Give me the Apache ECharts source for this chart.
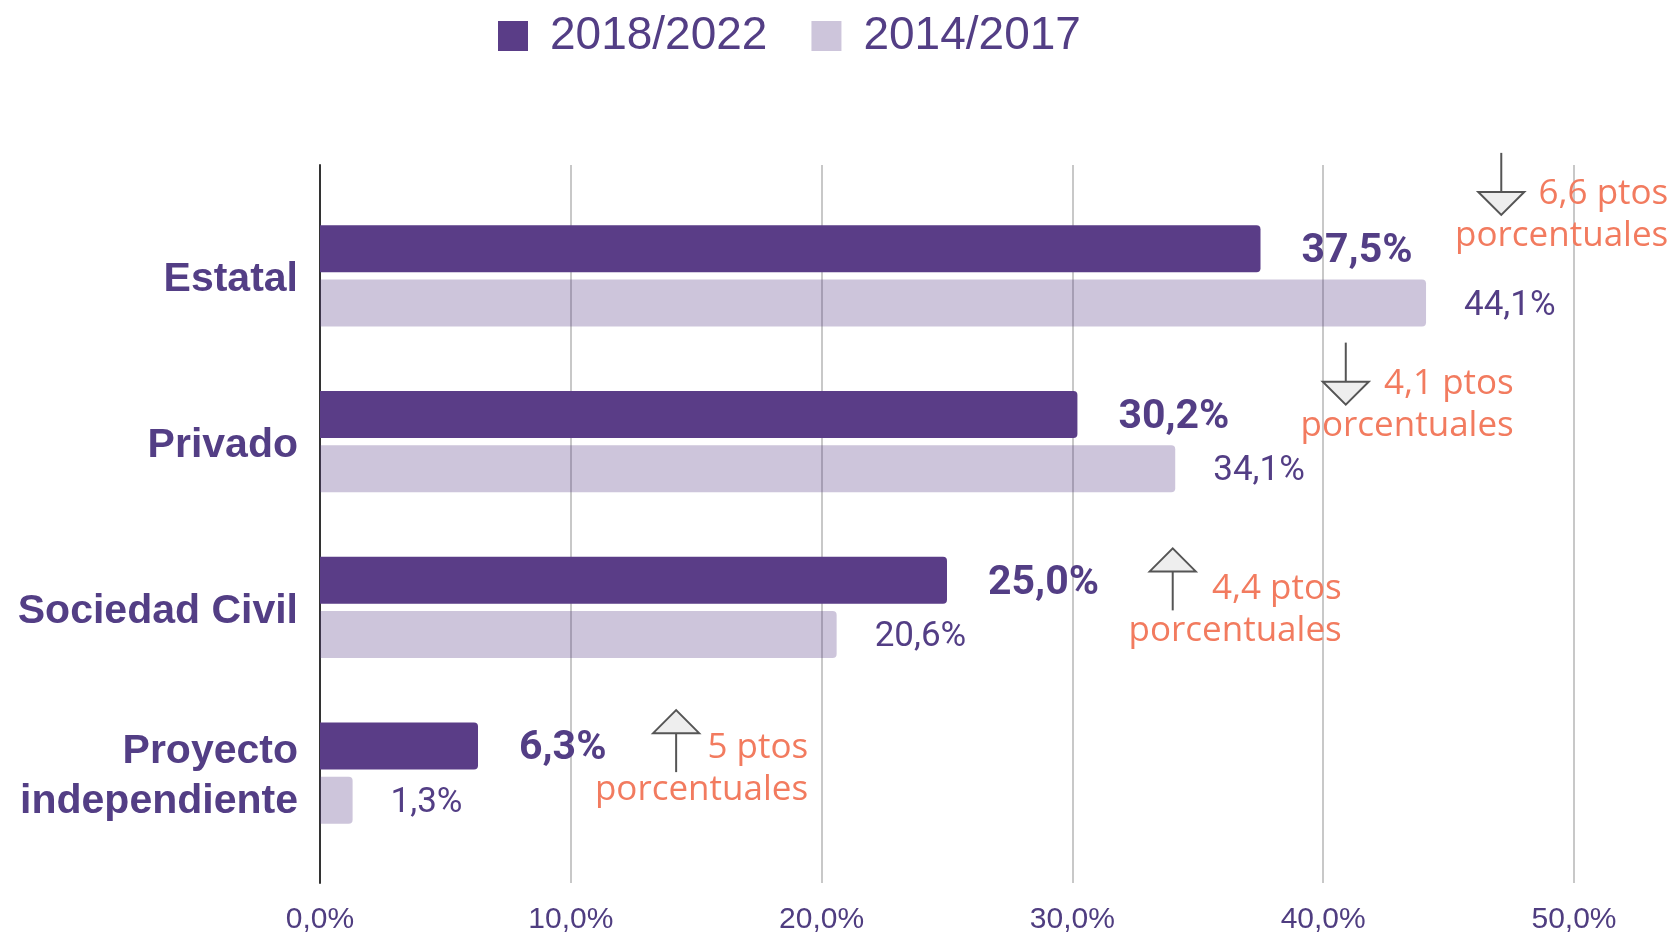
<!DOCTYPE html>
<html>
<head>
<meta charset="utf-8">
<script src="https://cdn.jsdelivr.net/npm/echarts@6/dist/echarts.min.js"></script>
<style>
  html, body { margin: 0; padding: 0; background: #fff; }
  #chart { width: 1674px; height: 935px; }
</style>
</head>
<body>
<div id="chart"></div>
<script>
// data
const categories = ["Estatal", "Privado", "Sociedad Civil", "Proyecto\nindependiente"];
const seriesNames = ["2018/2022", "2014/2017"];
const values2018 = [37.5, 30.2, 25.0, 6.3];
const values2014 = [44.1, 34.1, 20.6, 1.3];
const tickValues = [0, 10, 20, 30, 40, 50];
const diffLabels = ["6,6 ptos", "4,1 ptos", "4,4 ptos", "5 ptos"];
const diffDirection = ["down", "down", "up", "up"];

// annotation layout (arrow x in axis units, pixel offsets from category centre)
const annLayout = [
  { ax: 47.1, base: -84, textDx: 167, textDy: -82 },
  { ax: 40.9, base: -60, textDx: 168, textDy: -58 },
  { ax: 34.0, base: -36, textDx: 169, textDy: -18 },
  { ax: 14.2, base: -40, textDx: 132, textDy: -25 },
];

const DARK = "#5a3d87";
const LIGHT = "rgba(88,62,135,0.3)";
const TEXT = "#533e85";
const ORANGE = "#f27b5f";

const fmt = (v) => v.toFixed(1).replace(".", ",") + "%";

const chart = echarts.init(document.getElementById("chart"));

const option = {
  animation: false,
  legend: {
    data: seriesNames,
    left: 493,
    top: 8,
    icon: "rect",
    itemWidth: 30,
    itemHeight: 30,
    itemGap: 44,
    textStyle: {
      fontFamily: "Liberation Sans, Arial, sans-serif",
      fontSize: 46,
      color: TEXT,
      padding: [0, 0, 0, 17],
    },
  },
  grid: [
    { left: 320, right: 100, top: 165, bottom: 49 },
    { left: 320, right: 100, top: 193, bottom: 79 },
  ],
  xAxis: [
    {
      gridIndex: 0,
      type: "value",
      min: tickValues[0],
      max: tickValues[tickValues.length - 1],
      interval: 10,
      axisLine: { show: false },
      axisTick: { show: false },
      splitLine: { show: true, lineStyle: { color: "#c8c8c8", width: 2 } },
      axisLabel: {
        margin: 22,
        fontFamily: "Liberation Sans, Arial, sans-serif",
        fontSize: 30,
        color: "#4f3d80",
        formatter: (v) => fmt(v),
      },
    },
    {
      gridIndex: 1,
      type: "value",
      min: tickValues[0],
      max: tickValues[tickValues.length - 1],
      show: false,
    },
  ],
  yAxis: [
    {
      gridIndex: 0,
      type: "value",
      axisLine: { show: true, lineStyle: { color: "#333", width: 2 } },
      axisTick: { show: false },
      axisLabel: { show: false },
      splitLine: { show: false },
    },
    {
      gridIndex: 1,
      type: "category",
      inverse: true,
      data: categories,
      axisLine: { show: false },
      axisTick: { show: false },
      axisLabel: {
        margin: 22,
        align: "right",
        formatter: (v) => v.split("\n").map((s) => "{c|" + s + "}").join("\n"),
        rich: {
          c: {
            fontFamily: "Liberation Sans, Arial, sans-serif",
            fontWeight: "bold",
            fontSize: 41,
            lineHeight: 50,
            padding: [8, 0, 0, 0],
            color: TEXT,
          },
        },
      },
    },
  ],
  series: [
    {
      name: seriesNames[0],
      type: "bar",
      xAxisIndex: 1,
      yAxisIndex: 1,
      data: values2018,
      barWidth: 47,
      barGap: "15%",
      itemStyle: { color: DARK, borderRadius: [0, 4, 4, 0] },
      label: {
        show: true,
        position: "right",
        distance: 41,
        offset: [0, 3],
        fontFamily: "Roboto, sans-serif",
        fontWeight: "bold",
        fontSize: 41,
        color: TEXT,
        formatter: (p) => fmt(p.value),
      },
    },
    {
      name: seriesNames[1],
      type: "bar",
      xAxisIndex: 1,
      yAxisIndex: 1,
      data: values2014,
      barWidth: 47,
      barGap: "15%",
      itemStyle: { color: LIGHT, borderRadius: [0, 4, 4, 0] },
      label: {
        show: true,
        position: "right",
        distance: 38,
        offset: [0, 3],
        fontFamily: "Roboto, sans-serif",
        fontSize: 35,
        color: TEXT,
        formatter: (p) => fmt(p.value),
      },
    },
  ],
};

chart.setOption(option);

// arrows + "ptos porcentuales" notes
function buildNotes() {
  const els = [];
  categories.forEach((cat, i) => {
    const lay = annLayout[i];
    const pt = chart.convertToPixel({ gridIndex: 1 }, [lay.ax, i]);
    const x = pt[0];
    const base = pt[1] + lay.base;
    const half = 23;
    let lineY1, lineY2, tip;
    if (diffDirection[i] === "down") {
      lineY1 = base - 39; lineY2 = base; tip = base + 23;
    } else {
      lineY1 = base; lineY2 = base + 39; tip = base - 23;
    }
    els.push({
      type: "line",
      shape: { x1: x, y1: lineY1, x2: x, y2: lineY2 },
      style: { stroke: "#555", lineWidth: 2 },
      z: 20,
    });
    els.push({
      type: "polygon",
      shape: { points: [[x - half, base], [x + half, base], [x, tip]] },
      style: { fill: "#eeeeee", stroke: "#555", lineWidth: 2 },
      z: 20,
    });
    els.push({
      type: "text",
      x: x + lay.textDx,
      y: pt[1] + lay.textDy - 21,
      style: {
        text: diffLabels[i] + "\nporcentuales",
        align: "right",
        verticalAlign: "top",
        lineHeight: 42,
        fontFamily: "Open Sans, Noto Sans, sans-serif",
        fontSize: 35,
        fill: ORANGE,
      },
      z: 20,
    });
  });
  chart.setOption({ graphic: els });
}
buildNotes();
</script>
</body>
</html>
